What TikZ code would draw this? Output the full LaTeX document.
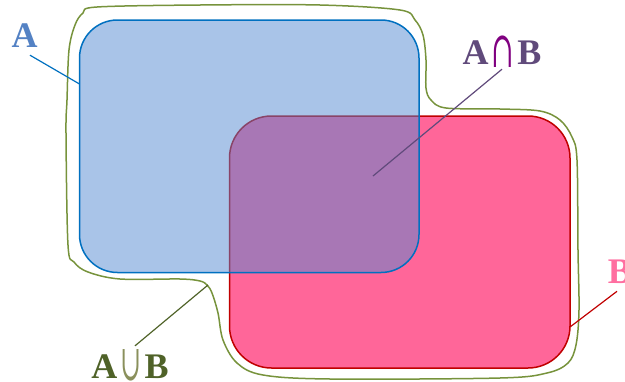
\documentclass[tikz,border=0pt]{standalone}
\usepackage{fontspec}
\setmainfont{Liberation Serif}
\newfontfamily\SymFont{DejaVu Serif}
\usepackage{graphicx}
\usepackage{tikz}
\definecolor{ColA}{RGB}{0,112,192}
\definecolor{ColAFill}{RGB}{83,137,209}
\definecolor{ColATxt}{RGB}{84,130,196}
\definecolor{ColB}{RGB}{192,0,0}
\definecolor{ColBFill}{RGB}{255,102,153}
\definecolor{ColBTxt}{RGB}{255,110,160}
\definecolor{ColUnion}{RGB}{119,147,60}
\definecolor{ColUnionTxt}{RGB}{79,98,40}
\definecolor{ColUnionSym}{RGB}{138,144,92}
\definecolor{ColInter}{RGB}{96,74,123}
\definecolor{ColInterSym}{RGB}{128,0,128}
\tikzstyle{SetBox}=[rectangle,inner sep=0pt,line width=1.5pt]
\tikzstyle{SetLabel}=[inner sep=0pt,anchor=base,font=\fontsize{36}{36}\selectfont\bfseries]
\tikzstyle{UnionLine}=[ColUnion,line width=1.5pt]
\tikzstyle{Leader}=[line width=1.2pt]

\begin{document}
\begin{tikzpicture}[x=1pt,y=-1pt]
        \useasboundingbox(0,0)rectangle(625,381);
        \node[SetBox,draw=ColB,fill=ColBFill,minimum width=340.5pt,minimum height=252pt,
            rounded corners=42pt](B)at(399.75,242){};
        \node[SetBox,draw=ColA,fill=ColAFill,fill opacity=0.5,minimum width=339.5pt,
            minimum height=252.5pt,rounded corners=38pt](A)at(249.25,146.25){};
        \draw[UnionLine]plot[smooth cycle,tension=0.55]coordinates{
            (97,7)(200,5)(320,5)(400,10)(415,20)(423,35)(426,60)(426,88)(431,100)
            (446,108)(500,109)(540,111)(560,120)(572,137)(577,160)(578,250)(579,310)
            (576,345)(568,363)(547,373)(500,378)(330,379)(263,375)(237,363)(223,340)
            (218,313)(212,293)(207,285)(200,281)(180,279)(120,279)(88,272)(74,262)
            (68,245)(66,133)(67,100)(69,50)(75,25)(83,13)};
        \node[SetLabel,text=ColATxt](lblA)at(24.5,47){A};
        \node[SetLabel,text=ColBTxt](lblB)at(620,283){B};
        \node[SetLabel,text=ColInter](lblAB)at(502,64){A\kern3pt\textcolor{ColInterSym}{\raisebox{-3pt}{\scalebox{0.75}[1.4]{\mdseries\SymFont ∩}}}\kern3pt B};
        \node[SetLabel,text=ColUnionTxt](lblU)at(130,378){A\kern3pt\textcolor{ColUnionSym}{\raisebox{-2pt}{\scalebox{0.7}[1.4]{\mdseries\SymFont ∪}}}\kern3pt B};
        \coordinate(pA)at(79.5,84);
        \coordinate(pAB)at(373,176);
        \coordinate(pB)at(570,327);
        \coordinate(pU)at(208,285);
        \draw[Leader,ColA]([xshift=5.5pt,yshift=-8pt]lblA.south)--(pA);
        \draw[Leader,ColInter]([yshift=-2pt]lblAB.south)--(pAB);
        \draw[Leader,ColB]([xshift=-3pt,yshift=-8pt]lblB.south)--(pB);
        \draw[Leader,ColUnionTxt]([xshift=5pt,yshift=3pt]lblU.north)--(pU);
    \end{tikzpicture}
\end{document}
